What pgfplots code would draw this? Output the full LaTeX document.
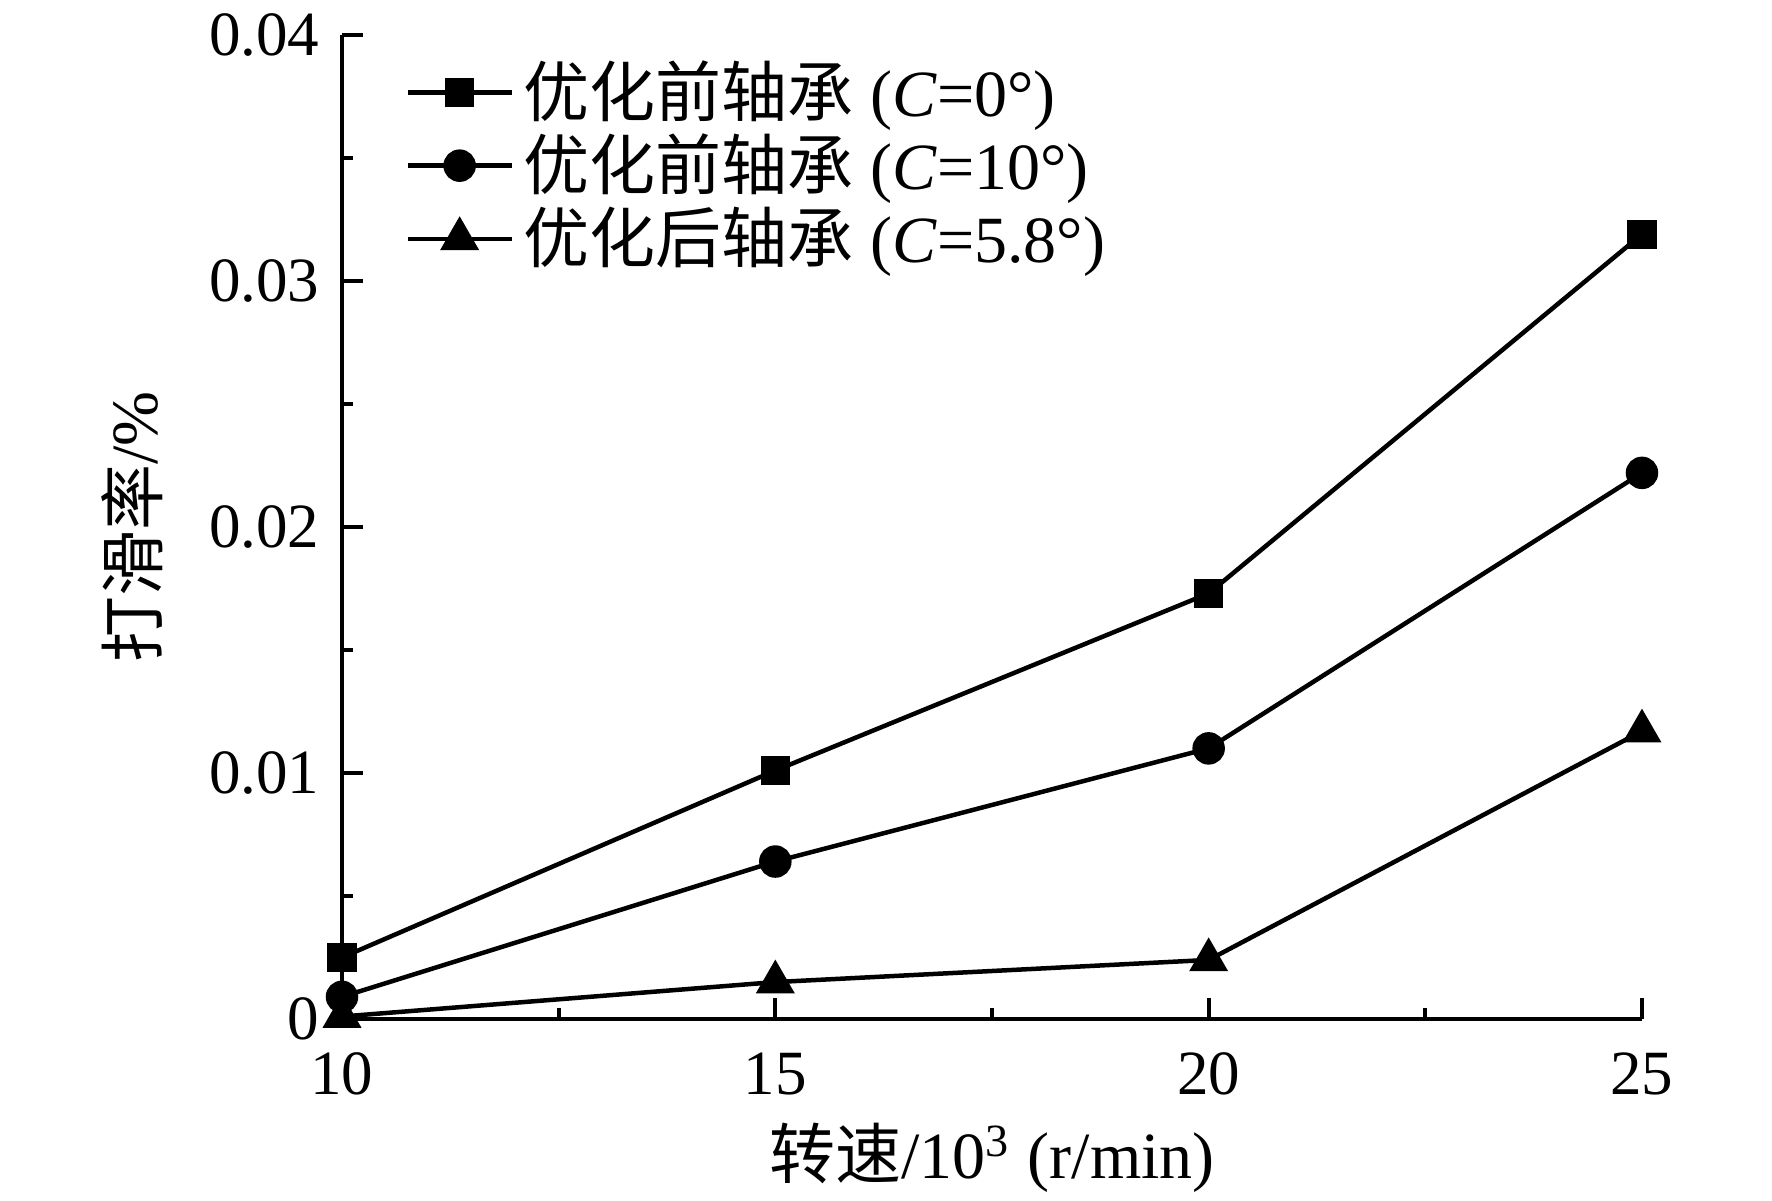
\documentclass[border=0pt]{standalone}
\usepackage{fontspec}
\setmainfont{Liberation Serif}
\newfontfamily\cjk{Noto Sans CJK SC}
\usepackage{pgfplots}
\pgfplotsset{compat=1.18}
\newcommand{\fs}{\fontsize{12.6pt}{15pt}\selectfont}
\newcommand{\fl}{\fontsize{13.2pt}{15.5pt}\selectfont}
\begin{document}
\begin{tikzpicture}
\path[use as bounding box] (0,0) rectangle (354.4pt,240.2pt);
\begin{axis}[
  at={(68.4pt,36.4pt)}, anchor=south west,
  scale only axis, width=260pt, height=196.8pt,
  xmin=10, xmax=25, ymin=0, ymax=0.04,
  scaled y ticks=false, scaled x ticks=false,
  axis lines=left, axis line style={-, line width=0.8pt},
  tick align=inside, major tick length=4.2pt, minor tick length=2.1pt,
  every tick/.style={line width=0.8pt, black},
  xtick={10,15,20,25}, xticklabels={10,15,20,25},
  ytick={0,0.01,0.02,0.03,0.04}, yticklabels={0,0.01,0.02,0.03,0.04},
  minor x tick num=1, minor y tick num=1,
  /pgf/number format/assume math mode=true,
  tick label style={font=\fs},
  xticklabel style={yshift=-3.2pt},
  yticklabel style={xshift=-1pt},
  every axis x label/.style={at={(axis description cs:0.5,0)}, yshift=-27.8pt, anchor=center, font=\fl},
  every axis y label/.style={at={(axis description cs:0,0.5)}, xshift=-42pt, rotate=90, anchor=center, font=\fl},
  xlabel={{\cjk 转速}/10\textsuperscript{3} (r/min)},
  ylabel={{\cjk 打滑率}/\%},
  legend style={at={(axis description cs:0.048,0.985)}, anchor=north west, draw=none, fill=none, font=\fl, row sep=-2pt, inner sep=0pt},
  legend cell align=left,
  legend image code/.code={\draw[#1, line width=0.9pt] (0pt,0pt) -- (20.8pt,0pt); \draw[#1, only marks] plot coordinates {(10.4pt,0pt)};},
]
\addplot[black, line width=0.9pt, mark=square*, mark size=2.5pt] coordinates {(10,0.0025) (15,0.0101) (20,0.0173) (25,0.0319)};
\addlegendentry{{\cjk 优化前轴承} (\textit{C}=0°)}
\addplot[black, line width=0.9pt, mark=*, mark size=2.8pt] coordinates {(10,0.0009) (15,0.0064) (20,0.0110) (25,0.0222)};
\addlegendentry{{\cjk 优化前轴承} (\textit{C}=10°)}
\addplot[black, line width=0.9pt, mark=triangle*, mark size=3.6pt] coordinates {(10,0.0001) (15,0.0015) (20,0.0024) (25,0.0117)};
\addlegendentry{{\cjk 优化后轴承} (\textit{C}=5.8°)}
\end{axis}
\end{tikzpicture}
\end{document}
